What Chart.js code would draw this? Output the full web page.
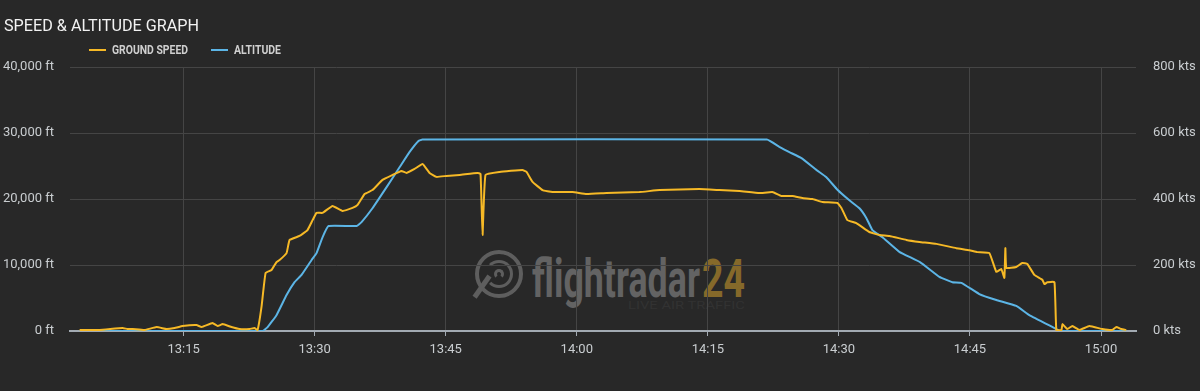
<!DOCTYPE html>
<html>
<head>
<meta charset="utf-8">
<title>Speed & Altitude Graph</title>
<script src="https://cdn.jsdelivr.net/npm/chart.js@4.4.1/dist/chart.umd.min.js"></script>
<style>
  html, body { margin: 0; padding: 0; background: #282828; }
  #wrap { position: relative; width: 1200px; height: 391px; overflow: hidden; font-family: Roboto, 'Noto Sans', sans-serif; }
  #chart { position: absolute; left: 0; top: 0; z-index: 2; }
  .fit { position: absolute; white-space: nowrap; display: inline-block; transform-origin: 0 0; line-height: 1; }
  #title { left: 4px; top: 17px; font-size: 17px; color: #f2f2f2; z-index: 3; }
  .legend-text { top: 44px; font-size: 12.5px; font-weight: 700; color: #cfcfcf; z-index: 3; }
  .swatch { position: absolute; top: 49px; width: 17px; height: 2px; z-index: 3; }
  #watermark { position: absolute; left: 0; top: 0; width: 1200px; height: 391px; z-index: 1; }
  .wm-text { top: 252px; font-size: 54px; font-weight: 700; }
  .ring { position: absolute; border-radius: 50%; box-sizing: border-box; }
</style>
</head>
<body>
<div id="wrap">
  <div id="watermark">
    <div class="ring" style="left:475px;top:250px;width:48px;height:48px;border:4px solid #5e5e5e;"></div>
    <div class="ring" style="left:485px;top:260px;width:28px;height:28px;border:3px solid #5e5e5e;border-left-color:transparent;"></div>
    <div class="ring" style="left:494px;top:269px;width:10px;height:10px;border:3px solid #5e5e5e;border-bottom-color:transparent;"></div>
    <div style="position:absolute;left:487px;top:276px;width:5px;height:26px;background:#5e5e5e;transform:rotate(35deg);transform-origin:50% 0;"></div>
    <span class="fit wm-text" id="wm1" style="left:532px;color:#636363;">flightradar</span>
    <span class="fit wm-text" id="wm2" style="left:702px;color:#85692a;">24</span>
    <span class="fit" id="wm3" style="left:628px;top:300px;font-size:11px;color:#323232;">LIVE AIR TRAFFIC</span>
  </div>
  <canvas id="chart" width="1200" height="391"></canvas>
  <span class="fit" id="title">SPEED &amp; ALTITUDE GRAPH</span>
  <div class="swatch" style="left:89px;background:#f6b926;"></div>
  <span class="fit legend-text" id="lg1" style="left:112px;">GROUND SPEED</span>
  <div class="swatch" style="left:211px;background:#5cb5e6;"></div>
  <span class="fit legend-text" id="lg2" style="left:234px;">ALTITUDE</span>
</div>
<script>
const axisStart = '13:02';
const axisEnd = '15:04';
const tickLabels = ['13:15', '13:30', '13:45', '14:00', '14:15', '14:30', '14:45', '15:00'];

const altTimes = [
  '13:03:06', '13:24:02', '13:24:37', '13:25:38', '13:26:47', '13:27:42', '13:28:30', '13:29:39',
  '13:30:13', '13:30:54', '13:31:35', '13:34:48', '13:35:22', '13:36:37', '13:38:14', '13:39:43',
  '13:40:51', '13:41:53', '13:42:20', '14:21:46', '14:23:11', '14:24:20', '14:25:43', '14:27:26',
  '14:28:34', '14:29:50', '14:31:12', '14:32:21', '14:33:09', '14:33:50', '14:34:59', '14:36:55',
  '14:39:19', '14:41:30', '14:42:59', '14:44:01', '14:46:04', '14:48:01', '14:50:18', '14:51:48',
  '14:54:53', '14:55:15', '15:02:53'
];
const altFeet = [
  0, 0, 600, 2400, 5450, 7400, 8500, 10750,
  11800, 14200, 15900, 15900, 16500, 18600, 21800, 24800,
  27100, 28800, 29000, 29000, 27900, 27100, 26200, 24400,
  23300, 21400, 19800, 18600, 17100, 15300, 14200, 12000,
  10400, 8200, 7400, 7300, 5600, 4700, 3800, 2400,
  300, 0, 0
];

const speedTimes = [
  '13:03:06', '13:05:23', '13:08:01', '13:08:35', '13:09:10', '13:10:32', '13:11:55', '13:13:03',
  '13:13:58', '13:14:53', '13:16:29', '13:17:04', '13:18:19', '13:18:54', '13:19:28', '13:20:29',
  '13:21:24', '13:22:33', '13:23:07', '13:23:28', '13:23:55', '13:24:23', '13:25:04', '13:25:38',
  '13:25:59', '13:26:47', '13:27:08', '13:28:16', '13:29:11', '13:29:46', '13:30:13', '13:30:54',
  '13:32:03', '13:33:11', '13:34:20', '13:34:55', '13:35:43', '13:36:37', '13:37:46', '13:38:55',
  '13:39:56', '13:40:31', '13:41:26', '13:42:21', '13:43:09', '13:43:57', '13:45:05', '13:46:35',
  '13:48:38', '13:48:59', '13:49:13', '13:49:33', '13:51:09', '13:53:47', '13:54:15', '13:54:56',
  '13:56:05', '13:57:13', '13:59:31', '14:01:07', '14:03:24', '14:07:10', '14:09:28', '14:14:02',
  '14:16:20', '14:18:37', '14:20:54', '14:22:23', '14:23:25', '14:24:41', '14:25:49', '14:26:58',
  '14:28:07', '14:29:50', '14:30:17', '14:30:58', '14:32:00', '14:33:29', '14:34:38', '14:35:47',
  '14:37:43', '14:39:13', '14:41:09', '14:43:26', '14:44:56', '14:45:50', '14:47:13', '14:48:01',
  '14:48:35', '14:48:56', '14:49:03', '14:49:10', '14:50:18', '14:50:59', '14:51:34', '14:52:22',
  '14:53:17', '14:53:31', '14:53:52', '14:54:40', '14:54:53', '14:55:28', '14:55:35', '14:56:08',
  '14:56:43', '14:57:31', '14:58:40', '15:00:09', '15:01:17', '15:01:45', '15:02:18', '15:02:53'
];
const speedKts = [
  3, 3, 9, 6, 6, 3, 12, 6,
  9, 15, 18, 12, 24, 15, 21, 12,
  6, 6, 9, 3, 73, 176, 185, 209,
  215, 236, 276, 288, 306, 336, 358, 358,
  379, 364, 373, 382, 415, 427, 458, 473,
  485, 479, 491, 506, 479, 467, 470, 473,
  479, 476, 291, 473, 482, 488, 482, 452,
  427, 421, 421, 415, 418, 421, 427, 430,
  427, 424, 418, 421, 409, 409, 403, 400,
  391, 388, 373, 336, 327, 300, 291, 288,
  276, 270, 264, 251, 245, 239, 236, 179,
  188, 161, 251, 191, 194, 206, 203, 170,
  155, 142, 148, 148, 3, 3, 21, 6,
  15, 3, 15, 6, 3, 12, 6, 3
];

const altTicks = [0, 10000, 20000, 30000, 40000];
const speedTicks = [0, 200, 400, 600, 800];

const gridColor = '#454545';
const axisLineColor = '#a2aab2';
const tickFont = { family: 'Roboto', size: 13 };
const tickColor = '#c9cdd0';

function toMinutes(t) {
  const p = t.split(':').map(Number);
  return p[0] * 60 + p[1] + (p[2] || 0) / 60;
}

function fitWidth(id, target) {
  const el = document.getElementById(id);
  const w = el.getBoundingClientRect().width;
  if (w > 0) el.style.transform = `scaleX(${target / w})`;
}

fitWidth('title', 195);
fitWidth('lg1', 76);
fitWidth('lg2', 47);
fitWidth('wm1', 168);
fitWidth('wm2', 43);
fitWidth('wm3', 117);

const speedPoints = speedTimes.map((t, i) => ({ x: toMinutes(t), y: speedKts[i] }));
const altPoints = altTimes.map((t, i) => ({ x: toMinutes(t), y: altFeet[i] }));

new Chart(document.getElementById('chart').getContext('2d'), {
  type: 'line',
  data: {
    datasets: [
      { label: 'GROUND SPEED', data: speedPoints, yAxisID: 'ySpeed', borderColor: '#f6b926', borderWidth: 2, pointRadius: 0, tension: 0.1, fill: false },
      { label: 'ALTITUDE', data: altPoints, yAxisID: 'yAlt', borderColor: '#5cb5e6', borderWidth: 2, pointRadius: 0, tension: 0.1, fill: false }
    ]
  },
  options: {
    responsive: false,
    animation: false,
    layout: { padding: { top: 67, left: 0, right: 0, bottom: 0 } },
    plugins: { legend: { display: false }, title: { display: false }, tooltip: { enabled: false } },
    scales: {
      x: {
        type: 'linear',
        min: toMinutes(axisStart),
        max: toMinutes(axisEnd),
        afterBuildTicks: scale => { scale.ticks = tickLabels.map(l => ({ value: toMinutes(l) })); },
        afterFit: scale => { scale.height = 60; },
        ticks: {
          autoSkip: false,
          maxRotation: 0,
          padding: 6,
          color: tickColor,
          font: tickFont,
          callback: (v, i) => tickLabels[i]
        },
        grid: { color: gridColor, tickColor: axisLineColor, tickLength: 5, lineWidth: 1 },
        border: { display: true, color: axisLineColor, width: 2 }
      },
      yAlt: {
        position: 'left',
        min: 0,
        max: 40000,
        afterBuildTicks: scale => { scale.ticks = altTicks.map(v => ({ value: v })); },
        afterFit: scale => { scale.width = 70; },
        ticks: {
          padding: 16,
          color: tickColor,
          font: tickFont,
          callback: v => v.toLocaleString('en-US') + ' ft'
        },
        grid: { color: ctx => (ctx.tick && ctx.tick.value === 0 ? 'rgba(0,0,0,0)' : gridColor), drawTicks: false },
        border: { display: false }
      },
      ySpeed: {
        position: 'right',
        min: 0,
        max: 800,
        afterBuildTicks: scale => { scale.ticks = speedTicks.map(v => ({ value: v })); },
        afterFit: scale => { scale.width = 64; },
        ticks: {
          padding: 17,
          color: tickColor,
          font: tickFont,
          callback: v => v + ' kts'
        },
        grid: { display: false, drawTicks: false },
        border: { display: false }
      }
    }
  }
});
</script>
</body>
</html>
